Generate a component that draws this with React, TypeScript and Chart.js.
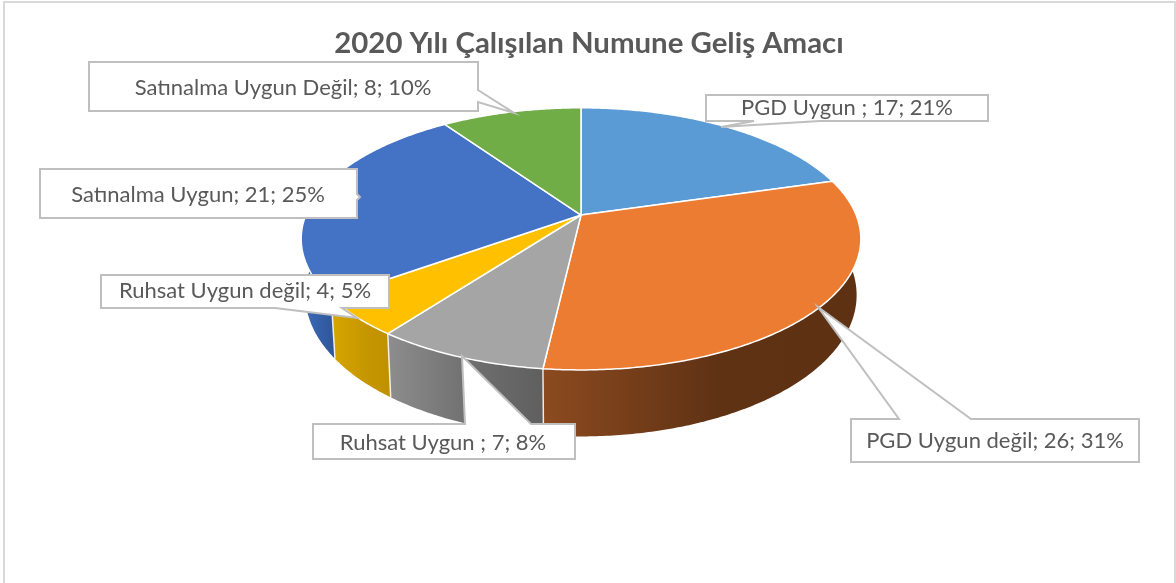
import React, { useEffect, useRef } from "react";
import { Chart, registerables } from "chart.js";

Chart.register(...registerables);

const titleText = "2020 Yılı Çalışılan Numune Geliş Amacı";
const categories = ["PGD Uygun ", "PGD Uygun değil", "Ruhsat Uygun ", "Ruhsat Uygun değil", "Satınalma Uygun", "Satınalma Uygun Değil"];
const counts = [17, 26, 7, 4, 21, 8];
const percents = [21, 31, 8, 5, 25, 10];

const topColors = ["#5B9BD5", "#EC7C31", "#A5A5A5", "#FFC000", "#4472C4", "#70AD47"];
const sideColors = [
  ["#3F6E98", "#3F6E98", "#3F6E98"],
  ["#8C4A1F", "#5F3214", "#5E3113"],
  ["#8D8D8D", "#6E6E6E", "#5F5F5F"],
  ["#D6A600", "#C79700", "#BF9000"],
  ["#3F6CBC", "#345FA8", "#2F5597"],
  ["#4F7A32", "#4F7A32", "#4F7A32"],
];

// callout outlines, same order as categories
const callouts = [
  { text: [847, 108], path: [[706, 95], [988, 95], [988, 121], [820, 121], [721, 127], [754, 121], [706, 121]] },
  { text: [995, 441], path: [[851, 419], [899, 419], [818, 307], [971, 419], [1139, 419], [1139, 462], [851, 462]] },
  { text: [443, 443], path: [[313, 424], [465, 424], [462, 356], [531, 424], [575, 424], [575, 459], [313, 459]] },
  { text: [245, 291], path: [[101, 275], [389, 275], [389, 308], [342, 308], [357, 318], [275, 308], [101, 308]] },
  { text: [198, 195], path: [[40, 169], [357, 169], [357, 194], [360, 197], [357, 200], [357, 218], [40, 218]] },
  { text: [283, 88], path: [[89, 62], [478, 62], [478, 90], [514, 113], [478, 102], [478, 111], [89, 111]] },
];

const pie3d = {
  id: "pie3d",
  beforeDraw(chart: any) {
    const { ctx, width, height } = chart;
    ctx.save();
    ctx.fillStyle = "#FFFFFF";
    ctx.fillRect(0, 0, width, height);
    ctx.strokeStyle = "#D9D9D9";
    ctx.lineWidth = 2;
    ctx.beginPath();
    ctx.moveTo(4, height);
    ctx.lineTo(4, 2);
    ctx.lineTo(1175, 2);
    ctx.lineTo(1175, height);
    ctx.stroke();
    ctx.restore();
  },
  beforeDatasetsDraw(chart: any) {
    const { ctx } = chart;
    const arcs = chart.getDatasetMeta(0).data;
    const R = arcs[0].outerRadius;
    const cx = arcs[0].x - 8;
    const cy = arcs[0].y;
    const a = R * 1.882;
    const b = R * 0.8668;
    const d = R * 0.372;
    const k = 0.182;

    const rim = (t: number) => {
      const u = Math.cos(t);
      const v = Math.sin(t);
      const w = 1 - k * v;
      return [cx + (a * u) / w, cy + (b * v) / w, v];
    };
    const base = (t: number) => {
      const u = Math.cos(t);
      const v = Math.sin(t);
      const w = 1 - k * v;
      return [cx + (0.985 * a * u) / w, cy + (b * v + d) / w, v];
    };
    const samples = (s: number, e: number) => {
      const n = Math.max(2, Math.ceil((e - s) / 0.01));
      const out: number[] = [];
      for (let i = 0; i <= n; i++) out.push(s + ((e - s) * i) / n);
      return out;
    };

    ctx.save();
    ctx.lineJoin = "round";

    // sides
    const order = arcs.map((_: any, i: number) => i);
    order.forEach((i: number) => {
      const el = arcs[i];
      const ts = samples(el.startAngle, el.endAngle);
      const front = ts.filter((t) => Math.sin(t) >= -0.12);
      if (!front.length) return;
      const xs = front.flatMap((t) => [rim(t)[0], base(t)[0]]);
      const x0 = Math.min(...xs);
      const x1 = Math.max(...xs);
      const g = ctx.createLinearGradient(x0, 0, x1, 0);
      g.addColorStop(0, sideColors[i][0]);
      g.addColorStop(0.55, sideColors[i][1]);
      g.addColorStop(1, sideColors[i][2]);
      ctx.beginPath();
      front.forEach((t, j) => {
        const p = rim(t);
        if (j) ctx.lineTo(p[0], p[1]);
        else ctx.moveTo(p[0], p[1]);
      });
      [...front].reverse().forEach((t) => {
        const p = base(t);
        ctx.lineTo(p[0], p[1]);
      });
      ctx.closePath();
      ctx.fillStyle = g;
      ctx.fill();
    });
    // vertical seams between the sides
    ctx.strokeStyle = "rgba(255,255,255,0.85)";
    ctx.lineWidth = 1.5;
    order.forEach((i: number) => {
      const t = arcs[i].startAngle;
      if (Math.sin(t) < 0.3) return;
      const p = rim(t);
      const q = base(t);
      ctx.beginPath();
      ctx.moveTo(p[0], p[1]);
      ctx.lineTo(q[0], q[1]);
      ctx.stroke();
    });

    // top face
    order.forEach((i: number) => {
      const el = arcs[i];
      ctx.beginPath();
      ctx.moveTo(cx, cy);
      samples(el.startAngle, el.endAngle).forEach((t) => {
        const p = rim(t);
        ctx.lineTo(p[0], p[1]);
      });
      ctx.closePath();
      ctx.fillStyle = topColors[i];
      ctx.fill();
      ctx.strokeStyle = "#FFFFFF";
      ctx.lineWidth = 1.5;
      ctx.stroke();
    });

    // callouts
    ctx.font = "400 22px Lato, 'Open Sans', sans-serif";
    ctx.textAlign = "center";
    ctx.textBaseline = "middle";
    callouts.forEach((c, i) => {
      ctx.beginPath();
      c.path.forEach((p, j) => (j ? ctx.lineTo(p[0], p[1]) : ctx.moveTo(p[0], p[1])));
      ctx.closePath();
      ctx.fillStyle = "#FFFFFF";
      ctx.fill();
      ctx.strokeStyle = "#BFBFBF";
      ctx.lineWidth = 2;
      ctx.lineJoin = "miter";
      ctx.stroke();
      ctx.fillStyle = "#595959";
      ctx.fillText(`${categories[i]}; ${counts[i]}; ${percents[i]}%`, c.text[0], c.text[1]);
    });
    ctx.restore();
    return false;
  },
};

export default function App() {
  const ref = useRef<HTMLCanvasElement>(null);
  useEffect(() => {
    const chart = new Chart(ref.current as HTMLCanvasElement, {
      type: "pie",
      data: {
        labels: categories,
        datasets: [{ data: counts, backgroundColor: topColors }],
      },
      options: {
        responsive: false,
        animation: false,
        events: [],
        layout: { padding: { left: 2, right: 0, top: 0, bottom: 220.8 } },
        plugins: {
          legend: { display: false },
          tooltip: { enabled: false },
          title: {
            display: true,
            text: titleText,
            color: "#595959",
            font: { family: "Lato, 'Open Sans', sans-serif", size: 29.4, weight: "bold", lineHeight: 1.184 },
            padding: { top: 26, bottom: 7 },
          },
        },
      },
      plugins: [pie3d],
    } as any);
    return () => chart.destroy();
  }, []);
  return (
    <canvas
      ref={ref}
      width={1176}
      height={583}
      style={{ position: "fixed", left: 0, top: 0, width: 1176, height: 583, display: "block" }}
    />
  );
}
